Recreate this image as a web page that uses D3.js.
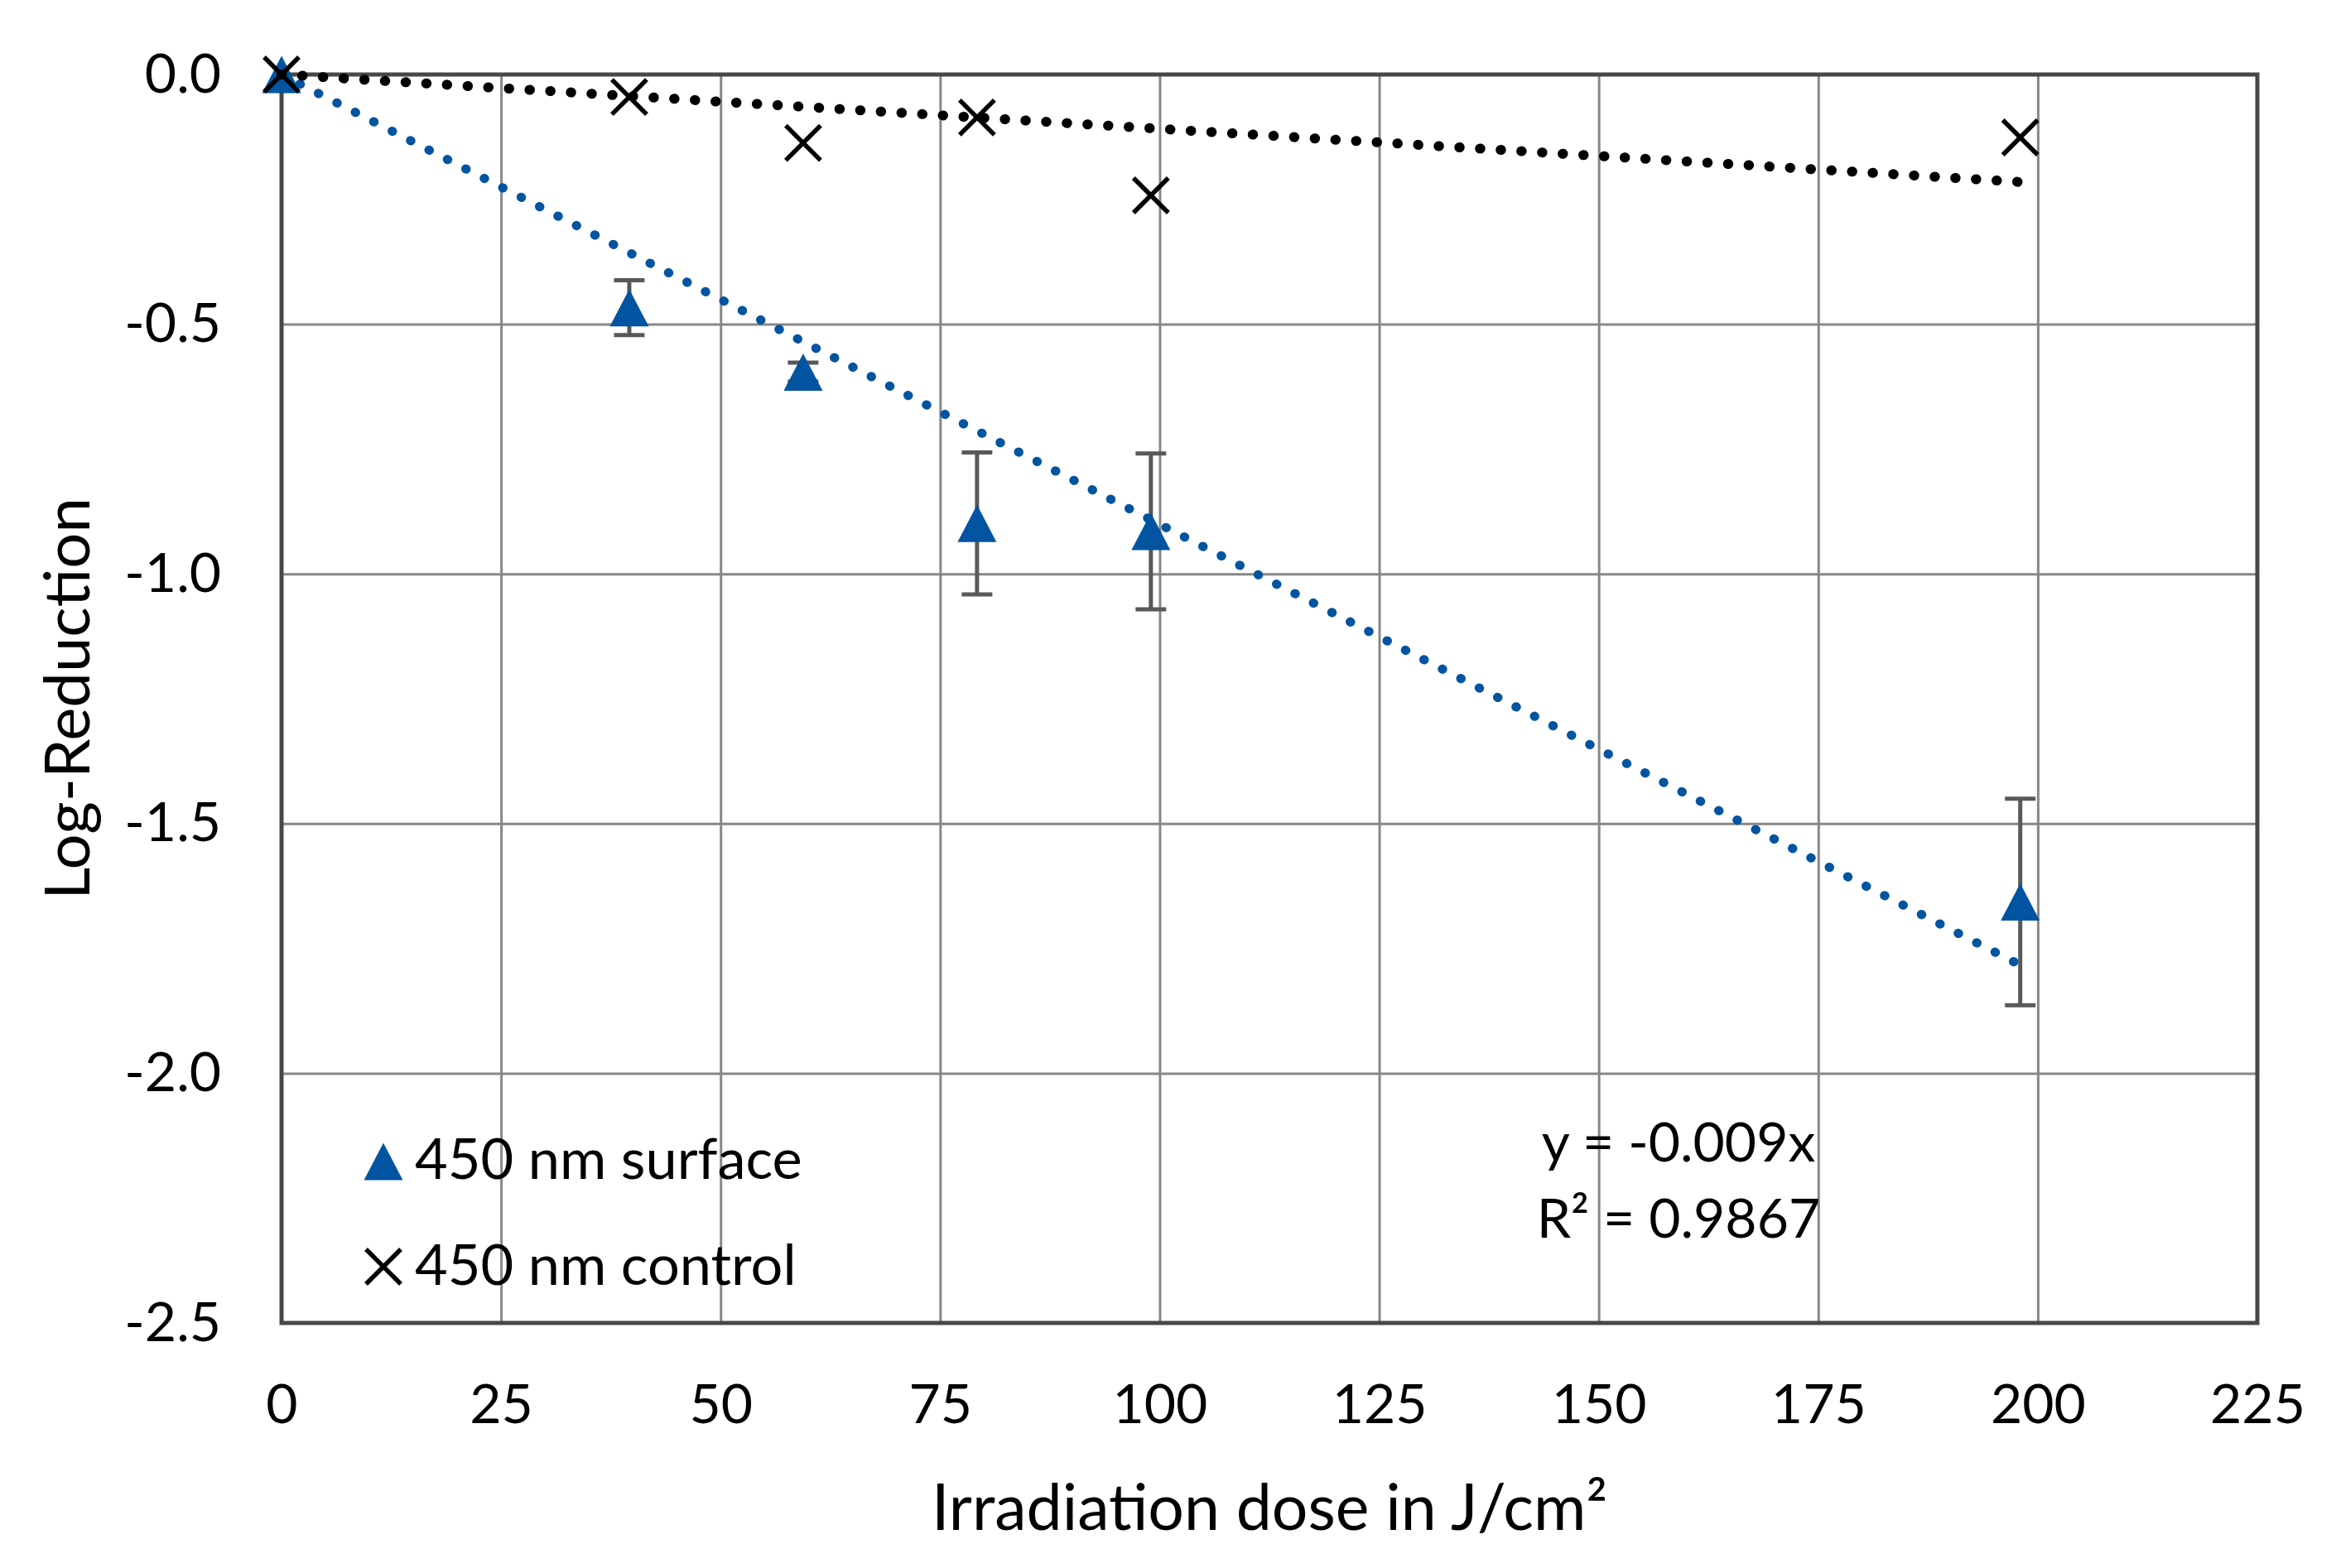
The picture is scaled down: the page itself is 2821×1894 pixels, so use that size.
<!DOCTYPE html>
<html>
<head>
<meta charset="utf-8">
<script src="https://cdn.jsdelivr.net/npm/d3@7"></script>
<style>
  html, body { margin: 0; padding: 0; background: #ffffff; }
  svg { display: block; }
  text { font-family: Lato, "Open Sans", "Noto Sans", sans-serif; fill: #000; }
</style>
</head>
<body>
<svg id="chart" width="2821" height="1894"></svg>
<script>
// ---- data ----
const doses        = [0, 39.6, 59.4, 79.2, 99, 198];
const surfaceVals  = [0, -0.467, -0.596, -0.899, -0.915, -1.657];
const surfaceErr   = [0, 0.055, 0.019, 0.142, 0.156, 0.207];
const controlVals  = [0, -0.045, -0.137, -0.086, -0.242, -0.126];

const xTicks = [0, 25, 50, 75, 100, 125, 150, 175, 200, 225];
const xTickLabels = ["0", "25", "50", "75", "100", "125", "150", "175", "200", "225"];
const yTicks = [0, -0.5, -1.0, -1.5, -2.0, -2.5];
const yTickLabels = ["0.0", "-0.5", "-1.0", "-1.5", "-2.0", "-2.5"];

const seriesNames = ["450 nm surface", "450 nm control"];
const equationLines = ["y = -0.009x", "R\u00B2 = 0.9867"];
const xTitle = "Irradiation dose in J/cm\u00B2";
const yTitle = "Log-Reduction";

// ---- layout ----
const W = 2821, H = 1894;
const M = { left: 340, right: 2821 - 2726, top: 90, bottom: 1894 - 1598 };
const iw = W - M.left - M.right, ih = H - M.top - M.bottom;
const blue = "#0054a0";

const svg = d3.select("#chart");
svg.append("rect").attr("width", W).attr("height", H).attr("fill", "#fff");
const g = svg.append("g").attr("transform", `translate(${M.left},${M.top})`);

const x = d3.scaleLinear().domain([0, 225]).range([0, iw]);
const y = d3.scaleLinear().domain([-2.5, 0]).range([ih, 0]);

// axes with gridlines
const xAxis = d3.axisBottom(x).tickValues(xTicks)
  .tickFormat((d, i) => xTickLabels[i]).tickSizeInner(-ih).tickSizeOuter(0).tickPadding(74);
const yAxis = d3.axisLeft(y).tickValues(yTicks)
  .tickFormat((d, i) => yTickLabels[i]).tickSizeInner(-iw).tickSizeOuter(0).tickPadding(73);

const gx = g.append("g").attr("transform", `translate(0,${ih})`).call(xAxis);
const gy = g.append("g").call(yAxis);
[gx, gy].forEach(a => {
  a.select(".domain").remove();
  a.selectAll(".tick line").attr("stroke", "#878787").attr("stroke-width", 3);
  a.selectAll(".tick text").attr("font-size", 66).attr("fill", "#000")
    .style("font-family", "Lato, 'Open Sans', sans-serif");
});

// plot border
g.append("rect").attr("x", 0).attr("y", 0).attr("width", iw).attr("height", ih)
  .attr("fill", "none").attr("stroke", "#474747").attr("stroke-width", 5);

// error bars
const capW = 37;
const eb = g.append("g").attr("stroke", "#595959").attr("stroke-width", 5);
doses.forEach((d, i) => {
  const e = surfaceErr[i];
  if (!e) return;
  const cx = x(d), y1 = y(surfaceVals[i] + e), y2 = y(surfaceVals[i] - e);
  eb.append("line").attr("x1", cx).attr("x2", cx).attr("y1", y1).attr("y2", y2);
  eb.append("line").attr("x1", cx - capW / 2).attr("x2", cx + capW / 2).attr("y1", y1).attr("y2", y1);
  eb.append("line").attr("x1", cx - capW / 2).attr("x2", cx + capW / 2).attr("y1", y2).attr("y2", y2);
});

// marker shapes
const triPath = "M0,-22.5L23.5,22.5L-23.5,22.5Z";
const crossPath = "M-21,-21L21,21M-21,21L21,-21";

// surface markers
g.append("g").selectAll("path").data(doses).join("path")
  .attr("d", triPath).attr("fill", blue)
  .attr("transform", (d, i) => `translate(${x(d)},${y(surfaceVals[i])})`);

// control markers
g.append("g").selectAll("path").data(doses).join("path")
  .attr("d", crossPath).attr("fill", "none").attr("stroke", "#000").attr("stroke-width", 5.5)
  .attr("transform", (d, i) => `translate(${x(d)},${y(controlVals[i])})`);

// linear trendlines through origin (least squares)
function slopeThroughOrigin(xs, ys) {
  let sxy = 0, sxx = 0;
  xs.forEach((v, i) => { sxy += v * ys[i]; sxx += v * v; });
  return sxy / sxx;
}
const xMax = d3.max(doses);
const line = d3.line().x(d => x(d[0])).y(d => y(d[1]));
[[surfaceVals, blue, 11], [controlVals, "#000", 12]].forEach(([vals, col, sw]) => {
  const m = slopeThroughOrigin(doses, vals);
  g.append("path").datum([[0, 0], [xMax, m * xMax]])
    .attr("d", line).attr("fill", "none").attr("stroke", col)
    .attr("stroke-width", sw).attr("stroke-linecap", "round")
    .attr("stroke-dasharray", "0.5,24.5");
});

// equation label
const eq = svg.append("text").attr("x", 2027).attr("text-anchor", "middle").attr("font-size", 66);
eq.append("tspan").attr("x", 2027).attr("y", 1403).text(equationLines[0]);
eq.append("tspan").attr("x", 2027).attr("y", 1495).text(equationLines[1]);

// legend
const lg = svg.append("g");
lg.append("path").attr("d", triPath).attr("fill", blue).attr("transform", "translate(463,1403)");
lg.append("text").attr("x", 501).attr("y", 1424).attr("font-size", 68.5).text(seriesNames[0]);
lg.append("path").attr("d", crossPath).attr("fill", "none").attr("stroke", "#000")
  .attr("stroke-width", 5.5).attr("transform", "translate(463,1530)");
lg.append("text").attr("x", 501).attr("y", 1552).attr("font-size", 68.5).text(seriesNames[1]);

// axis titles
svg.append("text").attr("x", M.left + iw / 2).attr("y", 1848).attr("text-anchor", "middle")
  .attr("font-size", 77).text(xTitle);
svg.append("text").attr("transform", `translate(108,${M.top + ih / 2}) rotate(-90)`)
  .attr("text-anchor", "middle").attr("font-size", 76).text(yTitle);
</script>
</body>
</html>
